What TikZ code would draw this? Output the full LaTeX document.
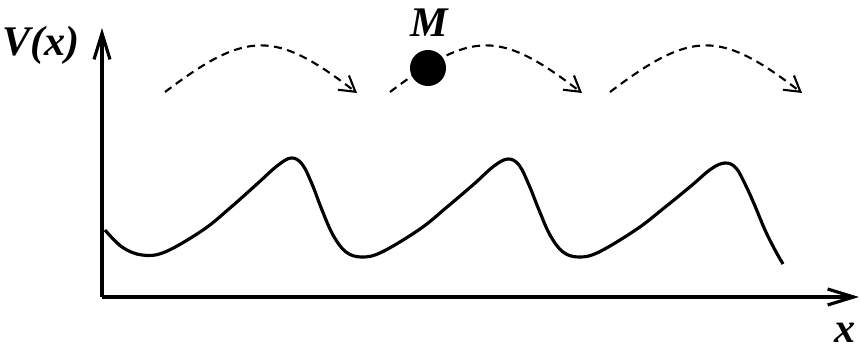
\documentclass[tikz,border=0pt]{standalone}
\usepackage{fontspec}
\setmainfont{Liberation Serif}
\usetikzlibrary{arrows.meta, positioning}
\tikzset{
    axis/.style={line width=0.9pt, -{Straight Barb[length=2.6mm, width=1.6mm]}},
    hop/.style={line width=0.6pt, dash pattern=on 0.8mm off 0.55mm, -{Straight Barb[length=1.5mm, width=1.8mm]}},
    lbl/.style={font=\fontsize{12}{14}\selectfont\bfseries\itshape}
}

\begin{document}
\begin{tikzpicture}[x=0.01cm, y=-0.01cm]
    \useasboundingbox (0,0) rectangle (860,351);

    % Axes
    \coordinate (origin) at (102,297);
    \coordinate (ytip) at (102,28);
    \coordinate (xtip) at (859,297);
    \draw[axis] (origin) -- (ytip); % V axis
    \draw[axis] (origin) -- (xtip); % x axis
    \node[lbl] (vlabel) at (41,45) {V(x)};
    \node[lbl] (xlabel) at (845,333) {x};

    % Periodic potential
    \draw[line width=0.9pt] plot[smooth, tension=0.6] coordinates {
        (105,230) (122,247) (142,255) (165,252) (203,230) (230,208)
        (257,184) (277,166) (291,158) (302,164) (312,184) (322,210) (333,235)
        (346,252) (362,257) (382,252) (420,229) (447,207) (474,184)
        (494,166) (508,159) (519,165) (529,185) (539,210) (550,235)
        (563,252) (579,257) (599,252) (637,229) (664,208) (691,186) (711,169)
        (725,163) (736,168) (746,186) (755,206) (765,230) (775,250) (783,264)
    };

    % Hops of the particle
    \foreach \s/\i in {165/1, 390/2, 610/3} {
        \coordinate (a\i) at (\s,92); % start of hop
        \coordinate (b\i) at (\s+192,93); % end of hop
        \draw[hop] (a\i) .. controls (\s+82,30) and (\s+110,30) .. (b\i);
    }

    % Particle
    \node[circle, fill=black, minimum size=3.6mm, inner sep=0pt] (ball) at (428,68) {};
    \node[lbl] (mlabel) at (429,23) {M};
\end{tikzpicture}
\end{document}
